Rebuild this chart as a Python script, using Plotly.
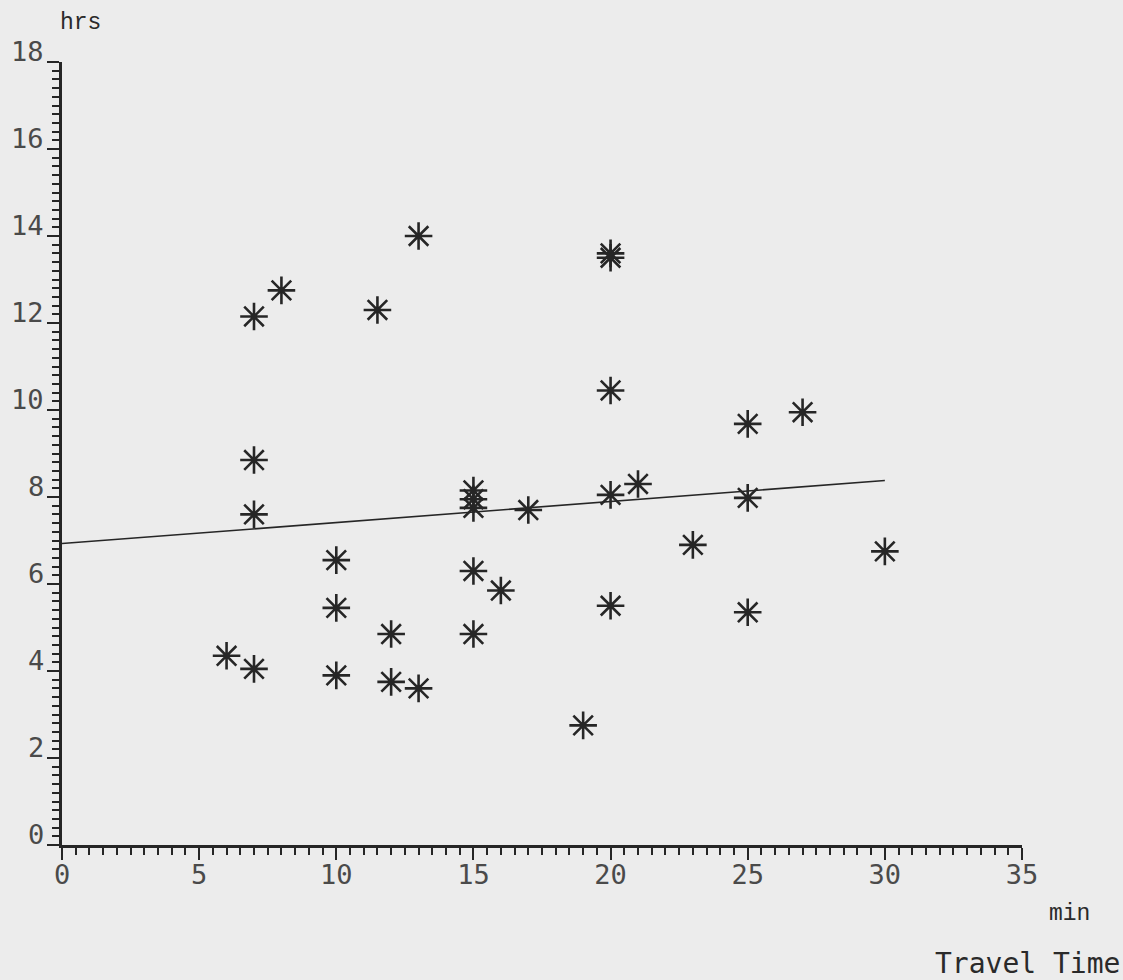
import plotly.graph_objects as go

# Travel time (min) vs hours (hrs)
travel_min = [6, 7, 7, 7, 7, 8, 10, 10, 10, 11.5, 12, 12, 13, 13,
              15, 15, 15, 15, 15, 16, 17, 19, 20, 20, 20, 20, 20,
              21, 23, 25, 25, 25, 27, 30]
hours = [4.35, 4.05, 7.6, 8.85, 12.15, 12.75, 3.9, 5.45, 6.55, 12.3, 4.85, 3.75, 3.6, 14.0,
         4.85, 6.3, 7.75, 7.95, 8.15, 5.85, 7.7, 2.75, 5.5, 8.05, 10.45, 13.5, 13.6,
         8.3, 6.9, 5.35, 7.98, 9.68, 9.95, 6.75]

# Fitted trend line end points
fit_x = [0, 30]
fit_y = [6.93, 8.38]

x_ticks = [0, 5, 10, 15, 20, 25, 30, 35]
y_ticks = [0, 2, 4, 6, 8, 10, 12, 14, 16, 18]

INK = "#262626"
BG = "#ececec"
TICK_FONT = dict(family="DejaVu Sans Mono", size=27, color="#4a4a4a")
UNIT_FONT = dict(family="Liberation Mono", size=23, color="#2a2a2a")

fig = go.Figure()

fig.add_trace(go.Scatter(
    x=fit_x, y=fit_y, mode="lines",
    line=dict(color=INK, width=1.6),
    hoverinfo="skip", showlegend=False,
))

fig.add_trace(go.Scatter(
    x=travel_min, y=hours, mode="markers",
    marker=dict(symbol="asterisk-open", size=23,
                line=dict(color=INK, width=2.6), color=INK),
    showlegend=False,
))

fig.update_xaxes(
    range=[0, 35], tickvals=x_ticks, ticktext=[str(v) for v in x_ticks],
    showgrid=False, zeroline=False,
    showline=True, linecolor=INK, linewidth=2.8,
    ticks="outside", ticklen=12, tickwidth=2, tickcolor=INK,
    minor=dict(dtick=0.5, ticks="outside", ticklen=7, tickwidth=1.5, tickcolor=INK),
    tickfont=TICK_FONT, ticklabelstandoff=-8,
)

fig.update_yaxes(
    range=[0, 18], tickvals=y_ticks, showticklabels=False,
    showgrid=False, zeroline=False,
    showline=True, linecolor=INK, linewidth=2.8,
    ticks="outside", ticklen=12, tickwidth=2, tickcolor=INK,
    minor=dict(dtick=0.2, ticks="outside", ticklen=7, tickwidth=1.5, tickcolor=INK),
)

annotations = []
# y tick labels sit just above their tick marks
for v in y_ticks:
    annotations.append(dict(
        x=0, xref="paper", xanchor="right", xshift=-16,
        y=v, yref="y", yanchor="bottom", yshift=-7,
        text=str(v), showarrow=False, font=TICK_FONT,
    ))

annotations += [
    dict(x=58, y=8, text="hrs", showarrow=False,
         font=UNIT_FONT, xanchor="left", yanchor="top"),
    dict(x=1047, y=899, text="min", showarrow=False,
         font=UNIT_FONT, xanchor="left", yanchor="top"),
    dict(x=1122, y=945, text="Travel Time", showarrow=False,
         font=dict(family="DejaVu Sans Mono", size=28, color="#2a2a2a"),
         xanchor="right", yanchor="top"),
]

# convert the free-standing text positions from page pixels to paper coords
W, H = 1123, 980
L, R, T, B = 62, 101, 62, 135
pw, ph = W - L - R, H - T - B
for a in annotations[len(y_ticks):]:
    a["xref"] = "paper"
    a["yref"] = "paper"
    a["x"] = (a["x"] - L) / pw
    a["y"] = 1 - (a["y"] - T) / ph

fig.update_layout(
    width=W, height=H,
    margin=dict(l=L, r=R, t=T, b=B, pad=0),
    paper_bgcolor=BG, plot_bgcolor=BG,
    annotations=annotations,
)

fig.write_html("out.html")
